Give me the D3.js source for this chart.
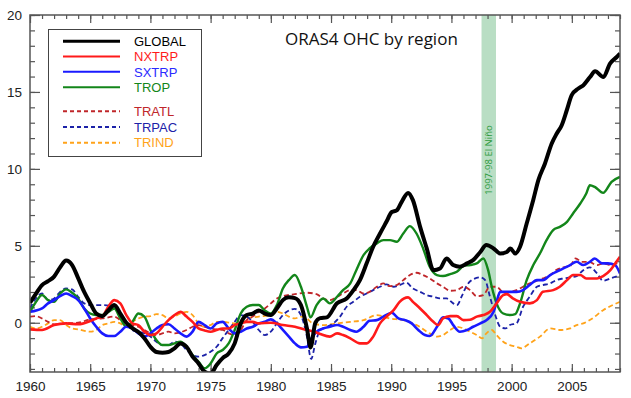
<!DOCTYPE html>
<html>
<head>
<meta charset="utf-8">
<script src="https://cdn.jsdelivr.net/npm/d3@7/dist/d3.min.js"></script>
<style>
body { margin: 0; background: #fff; }
svg { display: block; font-family: "Open Sans", sans-serif; }
</style>
</head>
<body>
<svg></svg>
<script>
var width = 631;
var height = 398;

// [year, OHC anomaly]
var globalData = [[1960,1.3],[1960.5,1.9],[1961,2.45],[1961.5,2.7],[1962,3.0],[1962.5,3.6],[1963,4.05],[1963.5,3.75],[1964,2.9],[1964.5,2.0],[1965,1.27],[1965.5,0.6],[1966,0.43],[1966.5,0.8],[1967,1.15],[1967.5,0.6],[1968,0.0],[1968.5,-0.35],[1969,-0.6],[1969.5,-1.0],[1970,-1.56],[1970.5,-1.9],[1971,-1.95],[1971.5,-1.9],[1972,-1.66],[1972.5,-1.34],[1973,-1.56],[1973.5,-2.2],[1974,-2.64],[1974.5,-3.18],[1975,-3.3],[1975.5,-2.75],[1976,-2.3],[1976.5,-2.0],[1977,-1.34],[1977.5,-0.04],[1978,0.5],[1978.5,0.6],[1979,0.8],[1979.5,0.6],[1980,0.5],[1980.5,0.93],[1981,1.47],[1981.5,1.65],[1982,1.6],[1982.5,1.15],[1983,-0.37],[1983.3,-1.6],[1983.7,0],[1984.1,0.3],[1984.65,0.35],[1985.5,1.27],[1986.3,1.58],[1986.85,2.1],[1987.4,2.77],[1987.96,3.86],[1988.5,4.94],[1989.07,5.8],[1989.6,6.56],[1990.05,7.2],[1990.45,7.3],[1990.87,7.86],[1991.4,8.44],[1991.8,7.97],[1992.4,6.23],[1992.95,4.83],[1993.5,3.42],[1994.05,3.53],[1994.6,4.18],[1995.15,3.75],[1995.7,3.64],[1996.3,3.86],[1996.8,4.07],[1997.4,4.6],[1997.9,5.05],[1998.5,4.83],[1999.05,4.5],[1999.6,4.6],[1999.9,4.83],[2000.3,4.5],[2000.7,4.94],[2001.25,6.45],[2001.8,8.0],[2002.22,9.27],[2002.77,10.35],[2003.33,11.65],[2003.75,12.3],[2004.16,12.84],[2004.58,13.81],[2004.99,14.79],[2005.54,15.22],[2005.96,15.44],[2006.51,15.97],[2006.93,16.34],[2007.62,15.97],[2008.17,16.84],[2008.73,17.27],[2009,17.49]];

var nxtrpData = [[1960,-0.43],[1961,-0.47],[1962,-0.15],[1963,-0.04],[1964,-0.1],[1965,0.11],[1965.5,0.28],[1966,0.4],[1966.5,1.04],[1967,1.47],[1967.5,1.26],[1968,0.5],[1968.5,-0.04],[1969,-0.15],[1969.5,-0.58],[1970,-0.8],[1970.5,-0.69],[1971,-0.26],[1971.5,0.17],[1972,0.5],[1972.5,0.71],[1973,0.4],[1973.5,0.06],[1974,-0.37],[1974.5,-0.5],[1975,-0.58],[1975.5,-0.47],[1976,-0.37],[1976.5,-0.37],[1977,-0.15],[1977.5,-0.04],[1978,0.06],[1978.5,0.06],[1979,-0.04],[1980,0.0],[1981,-0.15],[1982,-0.26],[1983,-0.47],[1983.5,-0.55],[1984.1,-0.73],[1984.9,-0.9],[1985.5,-0.69],[1986.0,-0.8],[1986.6,-1.01],[1987.4,-1.34],[1987.96,-1.34],[1988.5,-0.9],[1989.07,-0.04],[1989.6,0.4],[1990.2,0.82],[1990.7,1.36],[1991.4,1.65],[1991.8,1.36],[1992.4,0.93],[1992.95,0.5],[1993.5,0.06],[1993.9,-0.15],[1994.3,0.28],[1994.9,0.43],[1995.45,0.43],[1996.0,0.17],[1996.55,0.2],[1997.1,0.4],[1997.65,0.5],[1998.2,0.71],[1998.75,1.26],[1999.3,1.8],[1999.6,1.86],[2000.1,1.58],[2000.7,1.36],[2001.5,1.26],[2002.1,1.47],[2002.6,2.01],[2003.45,2.12],[2004.0,2.34],[2004.6,2.77],[2005.1,3.1],[2005.7,3.1],[2006.2,2.88],[2007.1,2.88],[2007.6,3.03],[2008.2,3.42],[2008.7,3.96],[2009,4.29]];

var sxtrpData = [[1960,0.71],[1961,0.93],[1961.5,1.26],[1962,1.47],[1962.5,1.73],[1963,1.9],[1963.5,1.73],[1964,1.47],[1964.5,0.93],[1965,0.28],[1965.5,-0.26],[1966,-0.69],[1966.5,-0.86],[1967,-0.86],[1967.5,-0.58],[1968,-0.26],[1968.5,-0.37],[1969,-0.69],[1969.5,-0.9],[1970,-0.69],[1970.5,-0.37],[1971,-0.15],[1971.5,-0.1],[1972,-0.37],[1972.5,-0.69],[1973,-0.9],[1973.5,-0.58],[1974,0.06],[1974.5,-0.15],[1975,-0.37],[1975.5,-0.04],[1976,0.06],[1976.5,-0.37],[1977,-0.69],[1977.5,-0.58],[1978,-0.37],[1978.5,-0.26],[1979,-0.04],[1979.5,0.06],[1980,0.22],[1980.5,-0.04],[1981,-0.47],[1981.5,-0.9],[1982,-1.34],[1982.5,-1.6],[1983,-1.56],[1983.3,-1.1],[1983.8,-0.58],[1984.35,-0.37],[1984.9,-0.26],[1985.5,-0.15],[1986.0,-0.26],[1986.6,-0.47],[1987.1,-0.58],[1987.7,-0.26],[1988.2,0.13],[1988.8,0.17],[1989.35,0.4],[1990.05,0.65],[1990.6,0.28],[1991.15,0.17],[1991.7,-0.04],[1992.25,-0.47],[1992.8,-0.8],[1993.2,-0.86],[1993.8,-0.26],[1994.3,0.35],[1994.75,0.28],[1995.15,-0.15],[1995.7,-0.58],[1996.3,-0.47],[1996.8,-0.26],[1997.4,-0.04],[1997.9,0.17],[1998.5,0.71],[1998.75,1.36],[1999.05,2.01],[1999.6,2.01],[2000.4,2.01],[2000.95,2.12],[2001.5,2.45],[2002.1,2.77],[2002.6,2.77],[2003.2,3.1],[2003.7,3.31],[2004.3,3.53],[2004.85,3.75],[2005.4,3.96],[2005.95,3.75],[2006.5,3.96],[2006.9,4.18],[2007.5,3.86],[2008.0,3.86],[2008.6,3.75],[2009,3.2]];

var tropData = [[1960,0.7],[1960.5,1.36],[1961,1.8],[1961.5,1.47],[1962,1.36],[1962.5,1.9],[1963,2.17],[1963.5,1.95],[1964,1.58],[1964.5,0.93],[1965,0.6],[1965.5,0.5],[1966,0.5],[1966.5,0.7],[1967,0.93],[1967.5,0.28],[1968,-0.26],[1968.5,0.06],[1969,0.6],[1969.5,0.4],[1970,-0.47],[1970.5,-1.12],[1971,-1.45],[1971.5,-1.45],[1972,-1.34],[1972.5,-1.23],[1973,-1.56],[1973.5,-2.1],[1974,-2.53],[1974.5,-2.96],[1975,-2.64],[1975.5,-2.0],[1976,-1.77],[1976.5,-1.34],[1977,-0.47],[1977.5,0.6],[1978,1.04],[1978.5,1.15],[1979,1.15],[1979.5,0.8],[1980,0.6],[1980.5,1.15],[1981,2.23],[1981.5,2.77],[1982,3.1],[1982.5,2.34],[1983,1.04],[1983.3,0.35],[1983.8,1.15],[1984.35,1.58],[1984.9,1.26],[1985.5,1.69],[1986.0,2.12],[1986.6,2.56],[1987.1,3.42],[1987.7,4.4],[1988.2,4.83],[1988.8,5.16],[1989.35,5.37],[1989.9,5.37],[1990.45,5.26],[1991.0,5.8],[1991.55,6.28],[1992.1,5.8],[1992.65,4.83],[1993.2,3.64],[1993.8,3.1],[1994.3,3.04],[1994.9,3.16],[1995.45,3.31],[1996.0,3.68],[1996.55,3.75],[1997.1,3.86],[1997.65,4.18],[1998.05,3.42],[1998.35,2.34],[1998.75,1.26],[1999.3,0.6],[1999.85,0.5],[2000.3,0.56],[2000.7,1.26],[2001.25,2.77],[2001.8,3.75],[2002.35,4.5],[2002.9,5.37],[2003.45,6.02],[2004.0,6.23],[2004.6,6.56],[2005.1,7.1],[2005.7,7.75],[2006.2,8.4],[2006.5,8.94],[2006.9,8.83],[2007.6,8.44],[2008.3,9.16],[2009,9.48]];

var tratlData = [[1960,0.4],[1960.5,0.43],[1961,0.28],[1961.5,0.06],[1962,-0.1],[1963,-0.04],[1964,0],[1965,0.22],[1966,0.28],[1967,0.4],[1967.5,0.17],[1968,-0.04],[1968.5,-0.15],[1969,-0.26],[1969.5,-0.47],[1970,-0.69],[1970.5,-0.8],[1971,-0.69],[1971.5,-0.58],[1972,-0.69],[1973,-0.47],[1973.5,-0.26],[1974,-0.15],[1974.5,-0.26],[1975,-0.37],[1975.5,-0.43],[1976,-0.47],[1976.5,-0.69],[1977,-0.8],[1977.5,-0.47],[1978,0.17],[1978.5,0.4],[1979,0.71],[1979.5,0.93],[1980,1.26],[1980.5,1.58],[1981,1.73],[1982,1.86],[1983,1.95],[1983.8,1.86],[1984.35,1.58],[1984.9,1.47],[1985.5,1.69],[1986.0,1.9],[1986.6,2.12],[1987.1,2.12],[1987.7,1.9],[1988.2,2.01],[1988.8,2.34],[1989.35,2.56],[1989.9,2.38],[1990.45,2.45],[1991.0,2.77],[1991.55,3.1],[1992.1,3.25],[1992.65,3.1],[1993.2,2.88],[1993.8,2.56],[1994.3,2.34],[1994.9,2.08],[1995.45,2.12],[1996.0,2.34],[1996.55,2.12],[1997.1,1.73],[1997.65,1.8],[1998.2,2.34],[1998.75,2.34],[1999.3,2.01],[1999.85,2.01],[2000.4,2.12],[2000.95,2.34],[2001.5,2.56],[2002.1,2.73],[2002.6,2.88],[2003.2,3.1],[2003.7,3.42],[2004.3,3.6],[2004.85,3.68],[2005.3,4.18],[2005.85,3.96],[2006.4,3.96],[2007.1,3.75],[2007.6,3.86],[2008.2,3.75],[2009,3.96]];

var trpacData = [[1960,0.93],[1960.5,1.58],[1961,1.9],[1961.5,1.47],[1962,1.58],[1962.5,2.01],[1963,2.23],[1963.5,2.17],[1964,1.69],[1964.5,1.26],[1965,1.15],[1966,1.15],[1967,1.04],[1967.5,0.5],[1968,-0.04],[1968.5,-0.47],[1969,-0.58],[1969.5,-0.69],[1970,-0.9],[1970.5,-1.23],[1971,-1.45],[1971.5,-1.45],[1972,-1.23],[1972.5,-1.34],[1973,-1.77],[1973.5,-2.1],[1974,-2.2],[1974.5,-2.1],[1975,-1.88],[1975.5,-1.56],[1976,-1.0],[1976.5,-0.47],[1977,0.06],[1977.5,0.5],[1978,0.4],[1978.5,0.06],[1979,-0.47],[1979.5,-0.8],[1980,-0.58],[1980.5,-0.04],[1981,0.5],[1981.5,0.8],[1982,0.9],[1982.5,0.5],[1983,-0.9],[1983.35,-2.35],[1983.7,-1.34],[1984.1,-0.47],[1984.65,-0.26],[1985.2,-0.04],[1985.75,0.4],[1986.3,1.04],[1986.85,1.36],[1987.4,1.69],[1987.96,1.9],[1988.5,2.12],[1989.07,2.34],[1989.6,2.5],[1990.2,2.34],[1990.7,2.45],[1991.25,2.6],[1991.8,2.23],[1992.4,2.01],[1992.95,1.8],[1993.5,1.69],[1994.05,1.58],[1994.6,1.58],[1995.15,1.26],[1995.45,1.15],[1995.9,1.8],[1996.3,2.45],[1996.8,2.82],[1997.4,2.95],[1997.8,2.77],[1998.2,1.69],[1998.6,0.6],[1999.05,-0.26],[1999.5,-0.37],[1999.85,-0.15],[2000.4,-0.04],[2000.95,1.04],[2001.5,1.69],[2002.1,2.34],[2002.6,2.45],[2003.2,2.56],[2003.7,2.77],[2004.3,2.88],[2004.85,2.95],[2005.4,3.03],[2005.95,3.42],[2006.5,3.6],[2007.1,3.2],[2007.6,2.73],[2008.2,2.88],[2009,3.1]];

var trindData = [[1960,-0.26],[1960.5,-0.37],[1961,-0.26],[1961.5,-0.04],[1962,0.17],[1962.5,0.17],[1963,-0.15],[1963.5,-0.37],[1964,-0.43],[1965,-0.58],[1965.5,-0.47],[1966,-0.15],[1966.5,-0.04],[1967,0.06],[1967.5,-0.04],[1968,-0.26],[1968.5,0.06],[1969,0.28],[1969.5,0.4],[1970,0.43],[1970.5,0.56],[1971,0.5],[1971.5,0.28],[1972,0.4],[1972.5,0.6],[1973,0.71],[1973.5,0.5],[1974,-0.04],[1974.5,-0.26],[1975,-0.15],[1975.5,0.06],[1976,0.06],[1977,-0.04],[1977.5,0.06],[1978,0.28],[1979,0.4],[1980,0.5],[1980.5,0.71],[1981,0.6],[1981.5,0.4],[1982,0.28],[1982.5,0.4],[1983,0.28],[1983.4,0],[1984.35,-0.15],[1985.5,-0.04],[1986.6,0.06],[1987.7,0.17],[1988.8,0.5],[1989.9,0.28],[1991.0,0.17],[1992.1,-0.15],[1993.2,-0.69],[1993.8,-0.9],[1994.3,-0.8],[1994.9,-0.47],[1995.45,-0.26],[1996.0,-0.37],[1996.55,-0.58],[1997.1,-0.8],[1997.55,-1.01],[1997.9,-0.69],[1998.35,-0.47],[1998.75,-0.8],[1999.3,-1.23],[1999.85,-1.45],[2000.4,-1.56],[2000.8,-1.66],[2001.5,-1.34],[2002.35,-0.9],[2003.2,-0.37],[2004.0,-0.47],[2004.85,-0.37],[2005.4,-0.15],[2005.95,-0.04],[2006.7,0.28],[2007.6,0.82],[2008.4,1.15],[2009,1.36]];

var elNino = [1997.5, 1998.7];
var yearTicks = [1960, 1965, 1970, 1975, 1980, 1985, 1990, 1995, 2000, 2005];
var valueTicks = [0, 5, 10, 15, 20];

var series = [
  { name: "GLOBAL", data: globalData, color: "#000000", text: "#000000", w: 4, dash: null },
  { name: "NXTRP", data: nxtrpData, color: "#ff1a1a", text: "#ff1a1a", w: 2.6, dash: null },
  { name: "SXTRP", data: sxtrpData, color: "#1a1aff", text: "#2a2aff", w: 2.6, dash: null },
  { name: "TROP", data: tropData, color: "#13861a", text: "#13861a", w: 2.4, dash: null },
  { name: "TRATL", data: tratlData, color: "#c0262a", text: "#c0262a", w: 1.8, dash: "5,3" },
  { name: "TRPAC", data: trpacData, color: "#1c22a8", text: "#1c22a8", w: 1.8, dash: "5,3" },
  { name: "TRIND", data: trindData, color: "#ffa31a", text: "#ffa31a", w: 1.8, dash: "5,3" }
];

var plotL = 30, plotR = 620, plotT = 15, plotB = 372;

var x = d3.scaleLinear().domain([1960, 2009]).range([plotL, plotR]);
var y = d3.scaleLinear().domain([-3.2, 20]).range([plotB, plotT]);

var svg = d3.select("svg")
    .attr("width", width)
    .attr("height", height);

svg.append("defs").append("clipPath")
    .attr("id", "plot")
  .append("rect")
    .attr("x", plotL).attr("y", plotT)
    .attr("width", plotR - plotL).attr("height", plotB - plotT);

// El Nino band
svg.append("rect")
    .attr("x", x(elNino[0]))
    .attr("y", plotT)
    .attr("width", x(elNino[1]) - x(elNino[0]))
    .attr("height", plotB - plotT)
    .attr("fill", "#b9dec4");

svg.append("text")
    .attr("transform", `translate(${x((elNino[0] + elNino[1]) / 2) + 3.5}, 160) rotate(-90)`)
    .attr("text-anchor", "middle")
    .style("font-size", "9.5px")
    .attr("fill", "#2c9a3c")
    .text("1997-98 El Niño");

// axes: ticks point inward on all four sides
var axisCol = "#555";
function styleAxis(g) {
  g.select(".domain").remove();
  g.selectAll("line").attr("stroke", axisCol).attr("stroke-width", 1.2);
  g.selectAll("text").attr("fill", "#222").style("font-size", "13.5px");
}

var minorYears = d3.range(1960, 2010);
var minorVals = d3.range(-3, 21);

svg.append("g").attr("transform", `translate(0,${plotB})`)
    .call(d3.axisBottom(x).tickValues(minorYears).tickSize(-4).tickFormat(""))
    .call(styleAxis);
svg.append("g").attr("transform", `translate(0,${plotB})`)
    .call(d3.axisBottom(x).tickValues(yearTicks).tickSize(-8).tickPadding(9).tickFormat(d3.format("d")))
    .call(styleAxis);
svg.append("g").attr("transform", `translate(0,${plotT})`)
    .call(d3.axisTop(x).tickValues(minorYears).tickSize(-4).tickFormat(""))
    .call(styleAxis);
svg.append("g").attr("transform", `translate(0,${plotT})`)
    .call(d3.axisTop(x).tickValues(yearTicks).tickSize(-8).tickFormat(""))
    .call(styleAxis);

svg.append("g").attr("transform", `translate(${plotL},0)`)
    .call(d3.axisLeft(y).tickValues(minorVals).tickSize(-5).tickFormat(""))
    .call(styleAxis);
svg.append("g").attr("transform", `translate(${plotL},0)`)
    .call(d3.axisLeft(y).tickValues(valueTicks).tickSize(-10).tickPadding(8).tickFormat(d3.format("d")))
    .call(styleAxis);
svg.append("g").attr("transform", `translate(${plotR},0)`)
    .call(d3.axisRight(y).tickValues(minorVals).tickSize(-5).tickFormat(""))
    .call(styleAxis);
svg.append("g").attr("transform", `translate(${plotR},0)`)
    .call(d3.axisRight(y).tickValues(valueTicks).tickSize(-10).tickFormat(""))
    .call(styleAxis);

// lines
var line = d3.line()
    .x(d => x(d[0]))
    .y(d => y(d[1]))
    .curve(d3.curveMonotoneX);

var lines = svg.append("g").attr("clip-path", "url(#plot)");
series.slice().reverse().forEach(s => {
  lines.append("path")
      .datum(s.data)
      .attr("fill", "none")
      .attr("stroke", s.color)
      .attr("stroke-width", s.w)
      .attr("stroke-dasharray", s.dash)
      .attr("stroke-linejoin", "round")
      .attr("d", line);
});

// frame
svg.append("rect")
    .attr("x", plotL).attr("y", plotT)
    .attr("width", plotR - plotL).attr("height", plotB - plotT)
    .attr("fill", "none")
    .attr("stroke", axisCol)
    .attr("stroke-width", 1.5);

// title
svg.append("text")
    .attr("x", 285)
    .attr("y", 45)
    .style("font-size", "17px")
    .attr("fill", "#111")
    .text("ORAS4 OHC by region");

// legend
var legend = svg.append("g");
legend.append("rect")
    .attr("x", 48.5).attr("y", 29.5)
    .attr("width", 153).attr("height", 127)
    .attr("fill", "#fff")
    .attr("stroke", "#444")
    .attr("stroke-width", 1);

var rowY = [41.3, 56.5, 71.8, 87.2, 111.3, 127, 142.7];
series.forEach((s, i) => {
  legend.append("line")
      .attr("x1", 63).attr("x2", 120)
      .attr("y1", rowY[i]).attr("y2", rowY[i])
      .attr("stroke", s.color)
      .attr("stroke-width", i === 0 ? 3 : 2)
      .attr("stroke-dasharray", s.dash ? "4,3" : null);
  legend.append("text")
      .attr("x", 134)
      .attr("y", rowY[i] + 4.7)
      .style("font-family", "'Liberation Sans', sans-serif")
      .style("font-size", "13px")
      .attr("fill", s.text)
      .text(s.name);
});
</script>
</body>
</html>
